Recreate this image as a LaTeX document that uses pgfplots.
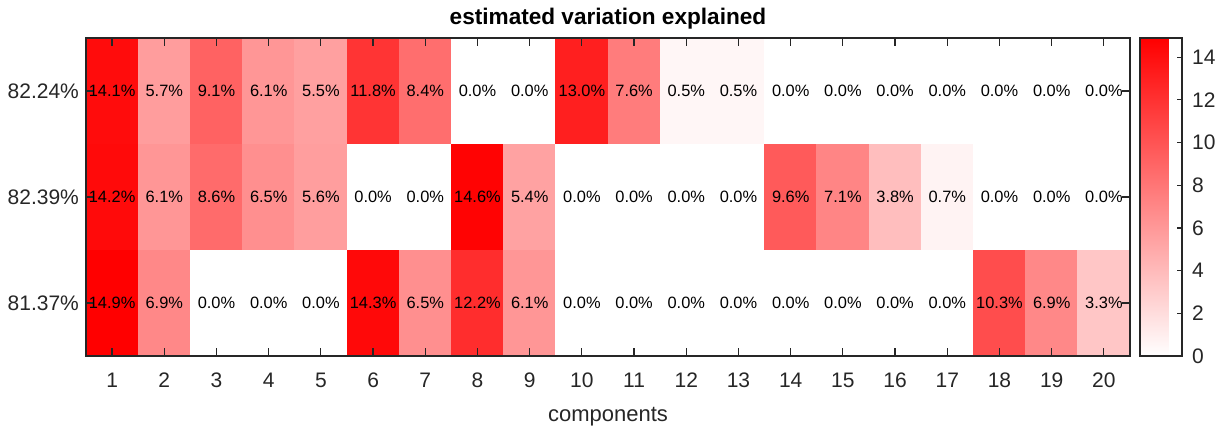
\documentclass[border=0pt]{standalone}
\usepackage{pgfplots}
\usepackage{pgfplotstable}
\pgfplotsset{compat=1.18}
\usepackage{fontspec}
\setmainfont{Liberation Sans}
\definecolor{axgray}{rgb}{0.15,0.15,0.15}
\pgfplotstableread{
x y c
1 1 14.1
2 1 5.7
3 1 9.1
4 1 6.1
5 1 5.5
6 1 11.8
7 1 8.4
8 1 0.0
9 1 0.0
10 1 13.0
11 1 7.6
12 1 0.5
13 1 0.5
14 1 0.0
15 1 0.0
16 1 0.0
17 1 0.0
18 1 0.0
19 1 0.0
20 1 0.0
1 2 14.2
2 2 6.1
3 2 8.6
4 2 6.5
5 2 5.6
6 2 0.0
7 2 0.0
8 2 14.6
9 2 5.4
10 2 0.0
11 2 0.0
12 2 0.0
13 2 0.0
14 2 9.6
15 2 7.1
16 2 3.8
17 2 0.7
18 2 0.0
19 2 0.0
20 2 0.0
1 3 14.9
2 3 6.9
3 3 0.0
4 3 0.0
5 3 0.0
6 3 14.3
7 3 6.5
8 3 12.2
9 3 6.1
10 3 0.0
11 3 0.0
12 3 0.0
13 3 0.0
14 3 0.0
15 3 0.0
16 3 0.0
17 3 0.0
18 3 10.3
19 3 6.9
20 3 3.3
}\datatable
\begin{document}
\begin{tikzpicture}
\begin{axis}[
  name=ax,
  scale only axis,
  width=522pt, height=159pt,
  xmin=0.5, xmax=20.5, ymin=0.5, ymax=3.5,
  y dir=reverse,
  enlargelimits=false,
  axis on top=true,
  xtick={1,...,20},
  ytick={1,2,3},
  yticklabels={82.24\%,82.39\%,81.37\%},
  tick align=inside,
  major tick length=4pt,
  xtick pos=both, ytick pos=both,
  xticklabel pos=bottom, yticklabel pos=left,
  axis line style={axgray, line width=0.6pt},
  every tick/.style={axgray, line width=0.6pt},
  tick label style={font=\fontsize{10.5}{12}\selectfont, text=axgray},
  xticklabel style={yshift=-5pt},
  /pgf/number format/assume math mode=true,
  xlabel={components},
  xlabel style={font=\fontsize{11}{13}\selectfont, text=axgray, yshift=-3pt},
  title={\textbf{estimated variation explained}},
  title style={font=\fontsize{11.3}{13}\selectfont, yshift=-5pt},
  colormap={wr}{rgb255=(255,255,255) rgb255=(255,0,0)},
  point meta min=0, point meta max=14.9,
  colorbar right,
  colorbar style={
    at={(parent axis.north east)}, anchor=north west, xshift=-3.5pt,
    width=21pt,
    ytick={0,2,...,14},
    tick align=inside,
    major tick length=2.5pt,
    ytick pos=right, yticklabel pos=right,
    yticklabel style={xshift=1.5pt},
    axis line style={axgray, line width=0.6pt},
    every tick/.style={axgray, line width=0.6pt},
    tick label style={font=\fontsize{10.5}{12}\selectfont, text=axgray},
    /pgf/number format/assume math mode=true,
  },
]
\addplot[matrix plot*, mesh/cols=20, point meta=explicit] table[x=x, y=y, meta=c] {\datatable};
\addplot[draw=none, mark=none, point meta=explicit,
  nodes near coords={\pgfmathprintnumber[fixed,fixed zerofill,precision=1]{\pgfplotspointmeta}\%},
  nodes near coords align=center,
  every node near coord/.append style={font=\fontsize{8.2}{9}\selectfont, text=black, inner sep=0pt}
] table[x=x, y=y, meta=c] {\datatable};
\end{axis}
\pgfresetboundingbox
\path ([shift={(-43pt,-38pt)}]ax.south west) rectangle ([shift={(568.5pt,178pt)}]ax.south west);
\end{tikzpicture}
\end{document}
